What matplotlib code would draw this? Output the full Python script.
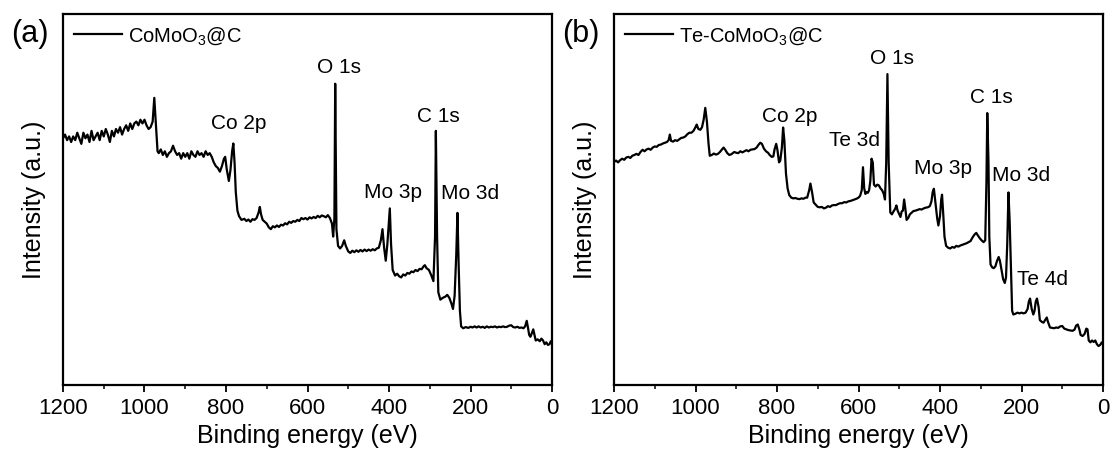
import matplotlib
matplotlib.use("Agg")
import matplotlib.pyplot as plt
from matplotlib.ticker import MultipleLocator

plt.rcParams["font.family"] = ["Liberation Sans", "DejaVu Sans"]
plt.rcParams["mathtext.default"] = "regular"

# ---- XPS survey of CoMoO3@C (binding energy in eV, intensity in a.u.) ----
energy_a = [1200, 1195, 1190, 1185, 1180, 1175, 1170, 1165, 1160, 1155, 1150, 1145, 1140,
            1135, 1130, 1125, 1120, 1115, 1110, 1105, 1100, 1095, 1090, 1085, 1080, 1075,
            1070, 1065, 1060, 1055, 1050, 1045, 1040, 1035, 1030, 1025, 1020, 1015, 1010,
            1005, 1000, 995, 990, 985, 980, 976, 972, 968, 965, 960, 955, 950, 945, 940,
            935, 930, 925, 920, 915, 910, 905, 900, 895, 890, 885, 880, 875, 870, 865, 860,
            855, 850, 845, 840, 835, 830, 825, 820, 815, 810, 805, 802, 798, 793, 789, 785,
            782, 779, 776, 772, 768, 762, 755, 750, 745, 740, 735, 730, 725, 720, 717, 714,
            710, 705, 700, 695, 690, 685, 680, 675, 670, 665, 660, 655, 650, 645, 640, 635,
            630, 625, 620, 615, 610, 605, 600, 595, 590, 585, 580, 575, 570, 565, 560, 555,
            550, 545, 540, 537, 534, 532, 529, 525, 520, 515, 510, 506, 500, 495, 490, 485,
            480, 475, 470, 465, 460, 455, 450, 445, 440, 435, 430, 425, 420, 416, 412, 408,
            404, 398, 395, 391, 385, 380, 375, 370, 365, 360, 355, 350, 345, 340, 335, 330,
            325, 320, 315, 312, 308, 302, 296, 291, 287, 285, 282, 279, 274, 268, 262, 257,
            252, 247, 243, 239, 235, 232, 229, 226, 223, 218, 212, 205, 200, 195, 190, 185,
            180, 175, 170, 165, 160, 155, 150, 145, 140, 135, 130, 125, 120, 115, 110, 105,
            100, 95, 90, 85, 80, 75, 70, 66, 62, 59, 56, 53, 50, 46, 43, 40, 35, 30, 26, 22,
            18, 14, 10, 6, 3, 0]
intensity_a = [66.5, 67.5, 66, 67, 65.5, 67, 66, 68, 66.5, 65, 68, 66.5, 67.5,
               65.5, 68.5, 66, 67, 68, 66, 68.5, 67, 69, 67.5, 65.5, 68.5, 67,
               69, 68, 69.5, 67.5, 69, 70, 68.5, 70.5, 69, 70.5, 71, 70, 71.5,
               70.5, 71.5, 70, 69, 69.5, 71, 77.4, 70, 63, 62.5, 63.5, 62, 63, 61.5, 62.5,
               63, 64.5, 63, 62, 62.5, 61, 62.5, 61.5, 62.5, 61, 63, 62, 61.5, 63, 62, 62.5,
               61.5, 63, 62, 62.5, 61.5, 60, 59, 58.5, 57.5, 59, 61, 61.5, 58, 55, 58, 63,
               65.1, 60, 52, 47, 45.5, 44.5, 44.8, 44.2, 44.6, 44, 44.7, 44.5, 45, 46.5, 48, 46,
               44.5, 44, 43.5, 42.5, 42, 42.8, 42.5, 43, 42.6, 43.2, 43, 43.6, 43.3, 44, 43.7, 44.2,
               44, 44.5, 44.2, 45, 44.7, 45, 44.6, 45.2, 44.9, 45.3, 45, 45.6, 45.2, 45.7, 45.5, 45.2,
               45.8, 45, 43.5, 40, 45, 81.2, 42, 37.5, 36.8, 37.5, 39, 37.5, 36, 35.6, 36.2, 35.8,
               36.3, 35.9, 36.4, 36, 36.5, 36.1, 36.5, 36.2, 36.6, 36.3, 36.8, 37, 39, 42, 37, 33.5,
               38, 47.6, 38, 31, 29.5, 30, 29.3, 29, 29.8, 29.5, 30.2, 30, 30.6, 30.4, 31, 30.7,
               31.3, 31.2, 32, 32.3, 31.5, 31, 29.5, 28, 40, 68.5, 40, 25, 23, 23.5, 23.8, 24.3,
               23.5, 22, 20.5, 24, 35, 46.4, 32, 20, 15.8, 15.3, 15.6, 15.4, 15.7, 15.5, 15.8, 15.5,
               15.8, 15.5, 15.7, 15.4, 15.8, 15.5, 15.7, 15.6, 15.8, 15.5, 15.7, 15.6, 15.8, 15.6, 15.7, 16,
               16.1, 15.6, 15.5, 15.7, 15.4, 15.5, 15.3, 15.8, 17.3, 15.5, 13.5, 13, 13.8, 15, 13.5, 12,
               12.3, 11.8, 12.5, 12, 11, 11.5, 10.8, 11, 11.8, 11.5]

# ---- XPS survey of Te-CoMoO3@C ----
energy_b = [1200, 1195, 1190, 1185, 1180, 1175, 1170, 1165, 1160, 1155, 1150, 1145, 1140,
            1135, 1130, 1125, 1120, 1115, 1110, 1105, 1100, 1095, 1090, 1085, 1080, 1075,
            1070, 1066, 1063, 1060, 1055, 1050, 1045, 1040, 1035, 1030, 1025, 1020, 1015,
            1010, 1005, 1000, 997, 993, 988, 984, 980, 976, 972, 968, 965, 960, 955, 950,
            945, 940, 935, 931, 927, 922, 917, 912, 905, 900, 895, 890, 885, 880, 875, 870,
            865, 860, 855, 850, 845, 841, 837, 832, 827, 822, 818, 813, 809, 806, 802, 799,
            795, 792, 788, 785, 782, 778, 774, 770, 765, 760, 755, 750, 745, 740, 735, 730,
            726, 721, 718, 714, 710, 705, 700, 695, 690, 685, 680, 675, 670, 665, 660, 655,
            650, 645, 640, 635, 630, 625, 620, 615, 610, 605, 600, 596, 592, 589, 586, 583,
            580, 577, 574, 571, 568, 565, 562, 558, 554, 550, 546, 542, 538, 535, 532, 529,
            526, 522, 518, 514, 510, 507, 504, 500, 497, 494, 491, 488, 485, 482, 478, 474,
            470, 465, 460, 455, 450, 445, 440, 435, 430, 425, 421, 418, 415, 411, 407, 404,
            400, 397, 395, 392, 389, 385, 380, 375, 370, 365, 360, 355, 350, 345, 340, 335,
            330, 325, 320, 315, 311, 307, 302, 298, 293, 289, 286, 284, 281, 279, 276, 272,
            268, 264, 260, 256, 253, 249, 245, 241, 238, 235, 232, 229, 226, 223, 220, 215,
            210, 205, 200, 195, 190, 185, 182, 179, 175, 171, 168, 165, 162, 158, 155, 150,
            146, 142, 138, 135, 130, 125, 120, 115, 110, 105, 100, 95, 90, 85, 80, 75,
            70, 66, 62, 58, 55, 50, 45, 41, 38, 35, 31, 27, 23, 19, 15, 11, 7, 3, 0]
intensity_b = [60.1, 60.5, 60, 60.6, 61, 60.7, 61.3, 61.5, 61.2, 61.8, 62, 62.3, 62,
               62.8, 63.4, 63, 63.5, 63.7, 63.4, 64, 64.3, 64.2, 64.7, 64.8, 65.1, 65.3,
               65.5, 66, 67.5, 65.8, 65.6, 66, 65.8, 66.2, 66.6, 66.7, 67, 67.6, 68,
               68, 68.5, 69.5, 70.2, 69, 68.8, 69.5, 71.5, 74.7, 71, 65, 61.8, 62, 62.4, 62.1,
               62.3, 62.8, 63.5, 64, 63.4, 62.5, 62, 62.2, 62.8, 62.6, 62.5, 63, 62.7, 63, 63.3, 63,
               63.4, 63.5, 63.6, 64, 64.8, 65.3, 65, 63.7, 63, 62.6, 62, 61.5, 61.6, 63.5, 65, 63.4,
               60, 60.5, 64, 69.4, 66, 57, 53, 51.2, 50.5, 50.3, 50.4, 50.2, 50.1, 50.3, 50.2, 50.5,
               50.5, 52.5, 54.3, 52, 49.2, 48.6, 48, 47.9, 48, 47.6, 47.8, 48.2, 48, 48.4, 48.5, 48.5,
               48.8, 49, 49, 49.3, 49.2, 49.5, 49.6, 49.8, 50, 50.2, 50.5, 51, 52.5, 58.7, 53, 51.5,
               52, 51.8, 52.5, 55, 61, 60, 54, 53.5, 54, 53.8, 53, 52.5, 51.5, 50, 60, 83.8,
               60, 46.5, 46, 46.8, 47.5, 48.4, 47, 46, 45.3, 46.8, 47, 50, 47.5, 44.5, 45, 46,
               46.4, 46.9, 47, 47.2, 47.4, 47.3, 47.6, 47.8, 47.9, 48.2, 49.5, 52, 52.9, 49, 45, 43,
               45.5, 50, 51.3, 46, 40, 37.5, 37, 36.8, 37.2, 37, 37.5, 37.3, 37.6, 37.8, 38, 38.2,
               38.5, 38.8, 39.8, 40.6, 41, 40.3, 39.5, 39, 38.5, 39, 55, 73.3, 60, 40, 32.5, 31.7,
               31.5, 32, 33.5, 34.5, 33.5, 31, 28.5, 27.5, 29, 38, 51.9, 44, 32, 20, 19, 19.2,
               19.5, 19.3, 19.5, 19.3, 19.5, 20.5, 22.5, 23.3, 20.5, 19, 20, 22.5, 23.3, 21, 17.5, 17,
               16.8, 17.5, 18.2, 17, 15.5, 15.4, 15.3, 15.5, 15.4, 15.8, 15.9, 15.2, 15, 14.8, 14.7, 14.6,
               14.9, 16, 16.3, 15, 13.5, 13.2, 13.8, 15.2, 15, 12, 11.5, 12, 11.6, 12, 11, 10.5, 10.8, 11.5, 11]

# peak assignments: (label, binding energy, label height)
peaks_a = [("Co 2p", 769, 70.6), ("O 1s", 523, 85.6), ("Mo 3p", 389, 52.0),
           ("C 1s", 280, 72.4), ("Mo 3d", 200, 51.5)]
peaks_b = [("Co 2p", 770, 72.4), ("Te 3d", 610, 66.0), ("O 1s", 518, 87.9),
           ("Mo 3p", 392, 58.3), ("C 1s", 275, 77.4), ("Mo 3d", 201, 56.5),
           ("Te 4d", 149, 28.4)]

W, H = 1113, 459
fig = plt.figure(figsize=(W / 100, H / 100), dpi=100)

def panel(left_px, energy, intensity, peaks, legend_label, tag):
    ax = fig.add_axes([left_px / W, (H - 385) / H, 489 / W, 371 / H])
    ax.plot(energy, intensity, color="black", lw=1.6, label=legend_label)
    ax.set_xlim(1200, 0)
    ax.set_ylim(0, 100)
    ax.set_yticks([])
    ax.xaxis.set_major_locator(MultipleLocator(200))
    ax.xaxis.set_minor_locator(MultipleLocator(100))
    ax.tick_params(axis="x", which="major", direction="out", length=5, width=1.3,
                   labelsize=16, pad=4)
    ax.tick_params(axis="x", which="minor", direction="out", length=3, width=1.1)
    for s in ax.spines.values():
        s.set_linewidth(1.6)
    ax.set_xlabel("Binding energy (eV)", fontsize=18, labelpad=4)
    ax.set_ylabel("Intensity (a.u.)", fontsize=18)
    ax.yaxis.set_label_coords(-0.035, 0.5)
    for name, e, h in peaks:
        ax.text(e, h, name, fontsize=15, ha="center", va="center")
    ax.legend(loc="upper left", frameon=False, fontsize=14.5, handlelength=2.4,
              handletextpad=0.3, borderaxespad=0.3, borderpad=0.25)
    fig.text((left_px - 33) / W, 1 - 34 / H, tag, fontsize=22, ha="center", va="center")
    return ax

panel(63, energy_a, intensity_a, peaks_a, "CoMoO$_3$@C", "(a)")
panel(614, energy_b, intensity_b, peaks_b, "Te-CoMoO$_3$@C", "(b)")

fig.savefig("out.png", dpi=100)
